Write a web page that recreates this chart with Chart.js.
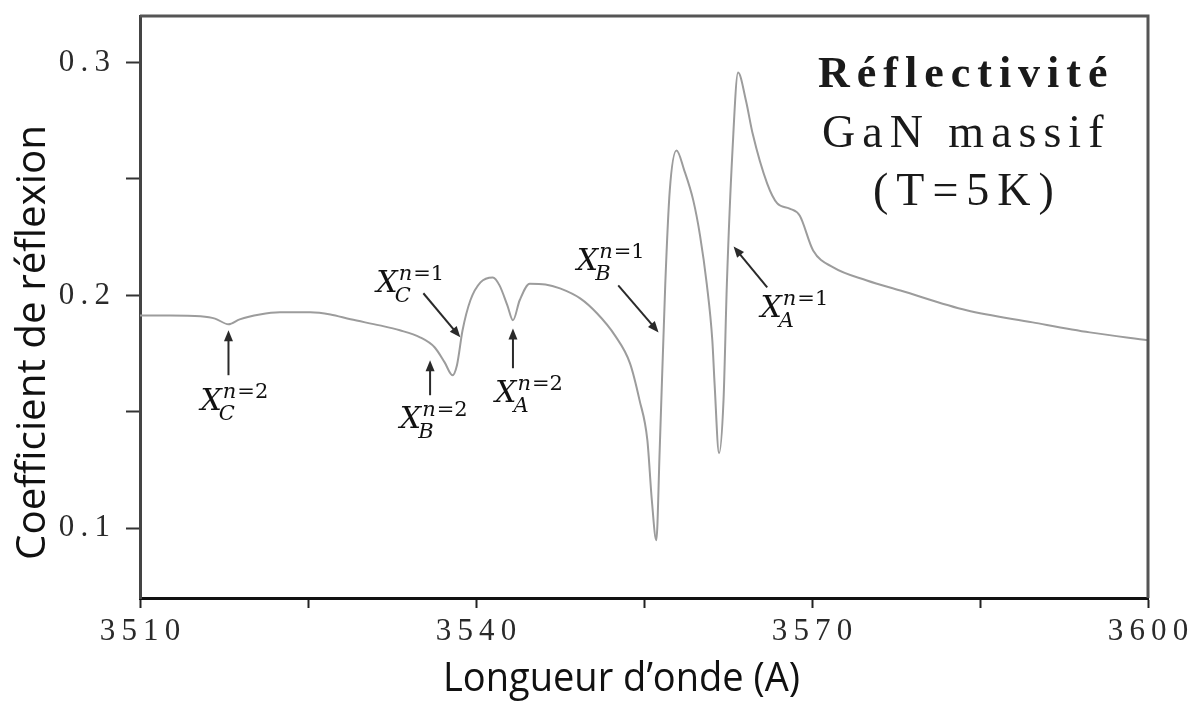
<!DOCTYPE html>
<html>
<head>
<meta charset="utf-8">
<script src="https://cdn.jsdelivr.net/npm/chart.js@4"></script>
<style>
  html, body { margin: 0; padding: 0; background: #fff; }
  #wrap { width: 1189px; height: 701px; }
</style>
</head>
<body>
<div id="wrap"><canvas id="canvas" width="1189" height="701"></canvas></div>
<script>
// Wavelength (A) and reflection coefficient
const wavelength = [
  3510.0, 3512.7, 3515.4, 3516.7, 3517.9, 3518.9, 3520.7, 3522.5, 3525.2, 3527.0,
  3528.8, 3531.4, 3533.2, 3535.0, 3536.3, 3537.2, 3537.9, 3538.3, 3538.8, 3539.5,
  3540.4, 3541.5, 3542.1, 3542.8, 3543.3, 3543.9, 3544.8, 3546.2, 3547.5, 3549.3,
  3550.8, 3552.4, 3553.75, 3554.6, 3555.3, 3555.7, 3556.1, 3556.4, 3556.9, 3557.3,
  3557.9, 3558.6, 3559.4, 3560.0, 3560.6, 3561.1, 3561.3, 3561.7, 3562.1, 3562.4,
  3562.9, 3563.4, 3564.1, 3564.7, 3566.0, 3566.9, 3568.0, 3568.9, 3570.1, 3571.9,
  3574.9, 3577.9, 3583.8, 3589.7, 3594.8, 3600.0
];
const reflectance = [
  0.1914, 0.1914, 0.1910, 0.1900, 0.1876, 0.1897, 0.1918, 0.1927, 0.1927, 0.1918,
  0.1897, 0.1871, 0.1850, 0.1820, 0.1777, 0.1712, 0.1657, 0.1700, 0.1850, 0.1979,
  0.2056, 0.2077, 0.2043, 0.1957, 0.1893, 0.1979, 0.2050, 0.2047, 0.2030, 0.1987,
  0.1923, 0.1828, 0.1708, 0.1550, 0.1378, 0.1120, 0.0948, 0.1335, 0.2050, 0.2450,
  0.2622, 0.2536, 0.2408, 0.2258, 0.2050, 0.1807, 0.1622, 0.1322, 0.1550, 0.2050,
  0.2622, 0.2957, 0.2837, 0.2695, 0.2480, 0.2395, 0.2373, 0.2343, 0.2193, 0.2120,
  0.2064, 0.2021, 0.1936, 0.1884, 0.1841, 0.1807
];

const xTicks = [3510, 3525, 3540, 3555, 3570, 3585, 3600];
const xLabels = [3510, 3540, 3570, 3600];
const yTicks = [0.1, 0.15, 0.2, 0.25, 0.3];
const yLabels = [0.1, 0.2, 0.3];

// Exciton annotations: subscript, superscript, label anchor and arrow (data units)
const annSub = ['C', 'B', 'A', 'C', 'B', 'A'];
const annSup = ['2', '2', '2', '1', '1', '1'];
const annAt = [[3515.4, 0.1506], [3533.2, 0.1429], [3541.7, 0.1541],
               [3531.1, 0.2013], [3549.0, 0.2107], [3565.4, 0.1906]];
const arrowFrom = [[3517.9, 0.1657], [3535.9, 0.1571], [3543.3, 0.1687],
                   [3535.3, 0.2009], [3552.7, 0.2043], [3566.0, 0.2034]];
const arrowTo = [[3517.9, 0.1850], [3535.9, 0.1721], [3543.3, 0.1858],
                 [3538.6, 0.1820], [3556.3, 0.1841], [3563.0, 0.2210]];

const SERIF = '"Liberation Serif", "DejaVu Serif", serif';
const MATH = '"DejaVu Serif", "Liberation Serif", serif';
const SANS = '"Open Sans", "Noto Sans", sans-serif';

function spaced(s) { return String(s).split('').join('\u2009'); }

// draw text squeezed to a given width (Calibri look-alike)
function fitText(ctx, text, x, y, width) {
  const w = ctx.measureText(text).width;
  ctx.save();
  ctx.translate(x, y);
  ctx.scale(width / w, 1);
  ctx.fillText(text, 0, 0);
  ctx.restore();
}

function arrow(ctx, x1, y1, x2, y2) {
  const a = Math.atan2(y2 - y1, x2 - x1);
  const L = 11, W = 4.5;
  ctx.beginPath();
  ctx.moveTo(x1, y1);
  ctx.lineTo(x2 - Math.cos(a) * L * 0.8, y2 - Math.sin(a) * L * 0.8);
  ctx.stroke();
  ctx.beginPath();
  ctx.moveTo(x2, y2);
  ctx.lineTo(x2 - Math.cos(a) * L - Math.sin(a) * W, y2 - Math.sin(a) * L + Math.cos(a) * W);
  ctx.lineTo(x2 - Math.cos(a) * L + Math.sin(a) * W, y2 - Math.sin(a) * L - Math.cos(a) * W);
  ctx.closePath();
  ctx.fill();
}

const decor = {
  id: 'decor',
  afterDraw(chart) {
    const ctx = chart.ctx;
    const a = chart.chartArea;
    const xs = chart.scales.x, ys = chart.scales.y;

    // frame (top / right lighter, left / bottom darker)
    ctx.save();
    ctx.strokeStyle = '#555';
    ctx.lineWidth = 3;
    ctx.beginPath();
    ctx.moveTo(a.left, a.top);
    ctx.lineTo(a.right, a.top);
    ctx.lineTo(a.right, a.bottom);
    ctx.stroke();
    ctx.restore();

    // axis titles
    ctx.save();
    ctx.fillStyle = '#111';
    ctx.font = '40px ' + SANS;
    ctx.textBaseline = 'alphabetic';
    fitText(ctx, 'Longueur d\u2019onde (A)', 443, 691, 357);
    ctx.translate(45, 560);
    ctx.rotate(-Math.PI / 2);
    fitText(ctx, 'Coefficient de r\u00e9flexion', 0, 0, 435);
    ctx.restore();

    // legend text block
    ctx.save();
    ctx.fillStyle = '#1a1a1a';
    ctx.textAlign = 'left';
    ctx.font = 'bold 44px ' + SERIF;
    ctx.letterSpacing = '7px';
    ctx.fillText('R\u00e9flectivit\u00e9', 818, 87);
    ctx.font = '46px ' + SERIF;
    ctx.letterSpacing = '7px';
    ctx.fillText('GaN massif', 822, 147);
    ctx.letterSpacing = '8px';
    ctx.fillText('(T=5K)', 873, 205);
    ctx.restore();

    // exciton labels and arrows
    ctx.save();
    ctx.strokeStyle = '#2a2a2a';
    ctx.fillStyle = '#2a2a2a';
    ctx.lineWidth = 2;
    for (let i = 0; i < annSub.length; i++) {
      arrow(ctx, xs.getPixelForValue(arrowFrom[i][0]), ys.getPixelForValue(arrowFrom[i][1]),
                 xs.getPixelForValue(arrowTo[i][0]), ys.getPixelForValue(arrowTo[i][1]));
    }
    ctx.fillStyle = '#111';
    for (let i = 0; i < annSub.length; i++) {
      const px = xs.getPixelForValue(annAt[i][0]);
      const py = ys.getPixelForValue(annAt[i][1]);
      ctx.font = 'italic 30px ' + MATH;
      ctx.fillText('X', px, py);
      const xw = ctx.measureText('X').width;
      ctx.font = 'italic 21px ' + MATH;
      ctx.fillText(annSub[i], px + xw - 3, py + 10);
      ctx.fillText('n', px + xw + 1, py - 12);
      const nw = ctx.measureText('n').width;
      ctx.font = '21px ' + MATH;
      ctx.fillText('=' + annSup[i], px + xw + nw + 2, py - 12);
    }
    ctx.restore();
  }
};

new Chart(document.getElementById('canvas').getContext('2d'), {
  type: 'line',
  data: {
    datasets: [{
      data: wavelength.map((x, i) => ({ x, y: reflectance[i] })),
      borderColor: '#9c9c9c',
      borderWidth: 2,
      pointRadius: 0,
      cubicInterpolationMode: 'monotone',
      fill: false
    }]
  },
  options: {
    responsive: false,
    animation: false,
    layout: { padding: { top: 16, right: 41, left: 0, bottom: 0 } },
    plugins: { legend: { display: false }, tooltip: { enabled: false } },
    scales: {
      x: {
        type: 'linear',
        min: 3510,
        max: 3600,
        afterBuildTicks(s) { s.ticks = xTicks.map(v => ({ value: v })); },
        afterFit(s) { s.height = 103; s.paddingLeft = 0; s.paddingRight = 0; },
        border: { display: true, color: '#111', width: 3 },
        grid: { drawOnChartArea: false, drawTicks: true, tickLength: 10, color: '#222', tickWidth: 2 },
        ticks: {
          autoSkip: false,
          maxRotation: 0,
          padding: 5,
          color: '#2a2a2a',
          font: { family: SERIF, size: 31 },
          callback: v => xLabels.includes(v) ? spaced(v) : ''
        }
      },
      y: {
        min: 0.07,
        max: 0.32,
        afterBuildTicks(s) { s.ticks = yTicks.map(v => ({ value: v })); },
        afterFit(s) { s.width = 140; s.paddingTop = 0; s.paddingBottom = 0; },
        border: { display: true, color: '#444', width: 3 },
        grid: { drawOnChartArea: false, drawTicks: true, tickLength: 14, color: '#333', tickWidth: 2 },
        ticks: {
          autoSkip: false,
          padding: 16,
          color: '#2a2a2a',
          font: { family: SERIF, size: 31 },
          callback: v => yLabels.some(t => Math.abs(t - v) < 1e-6) ? spaced(v.toFixed(1)) : ''
        }
      }
    }
  },
  plugins: [decor]
});
</script>
</body>
</html>
